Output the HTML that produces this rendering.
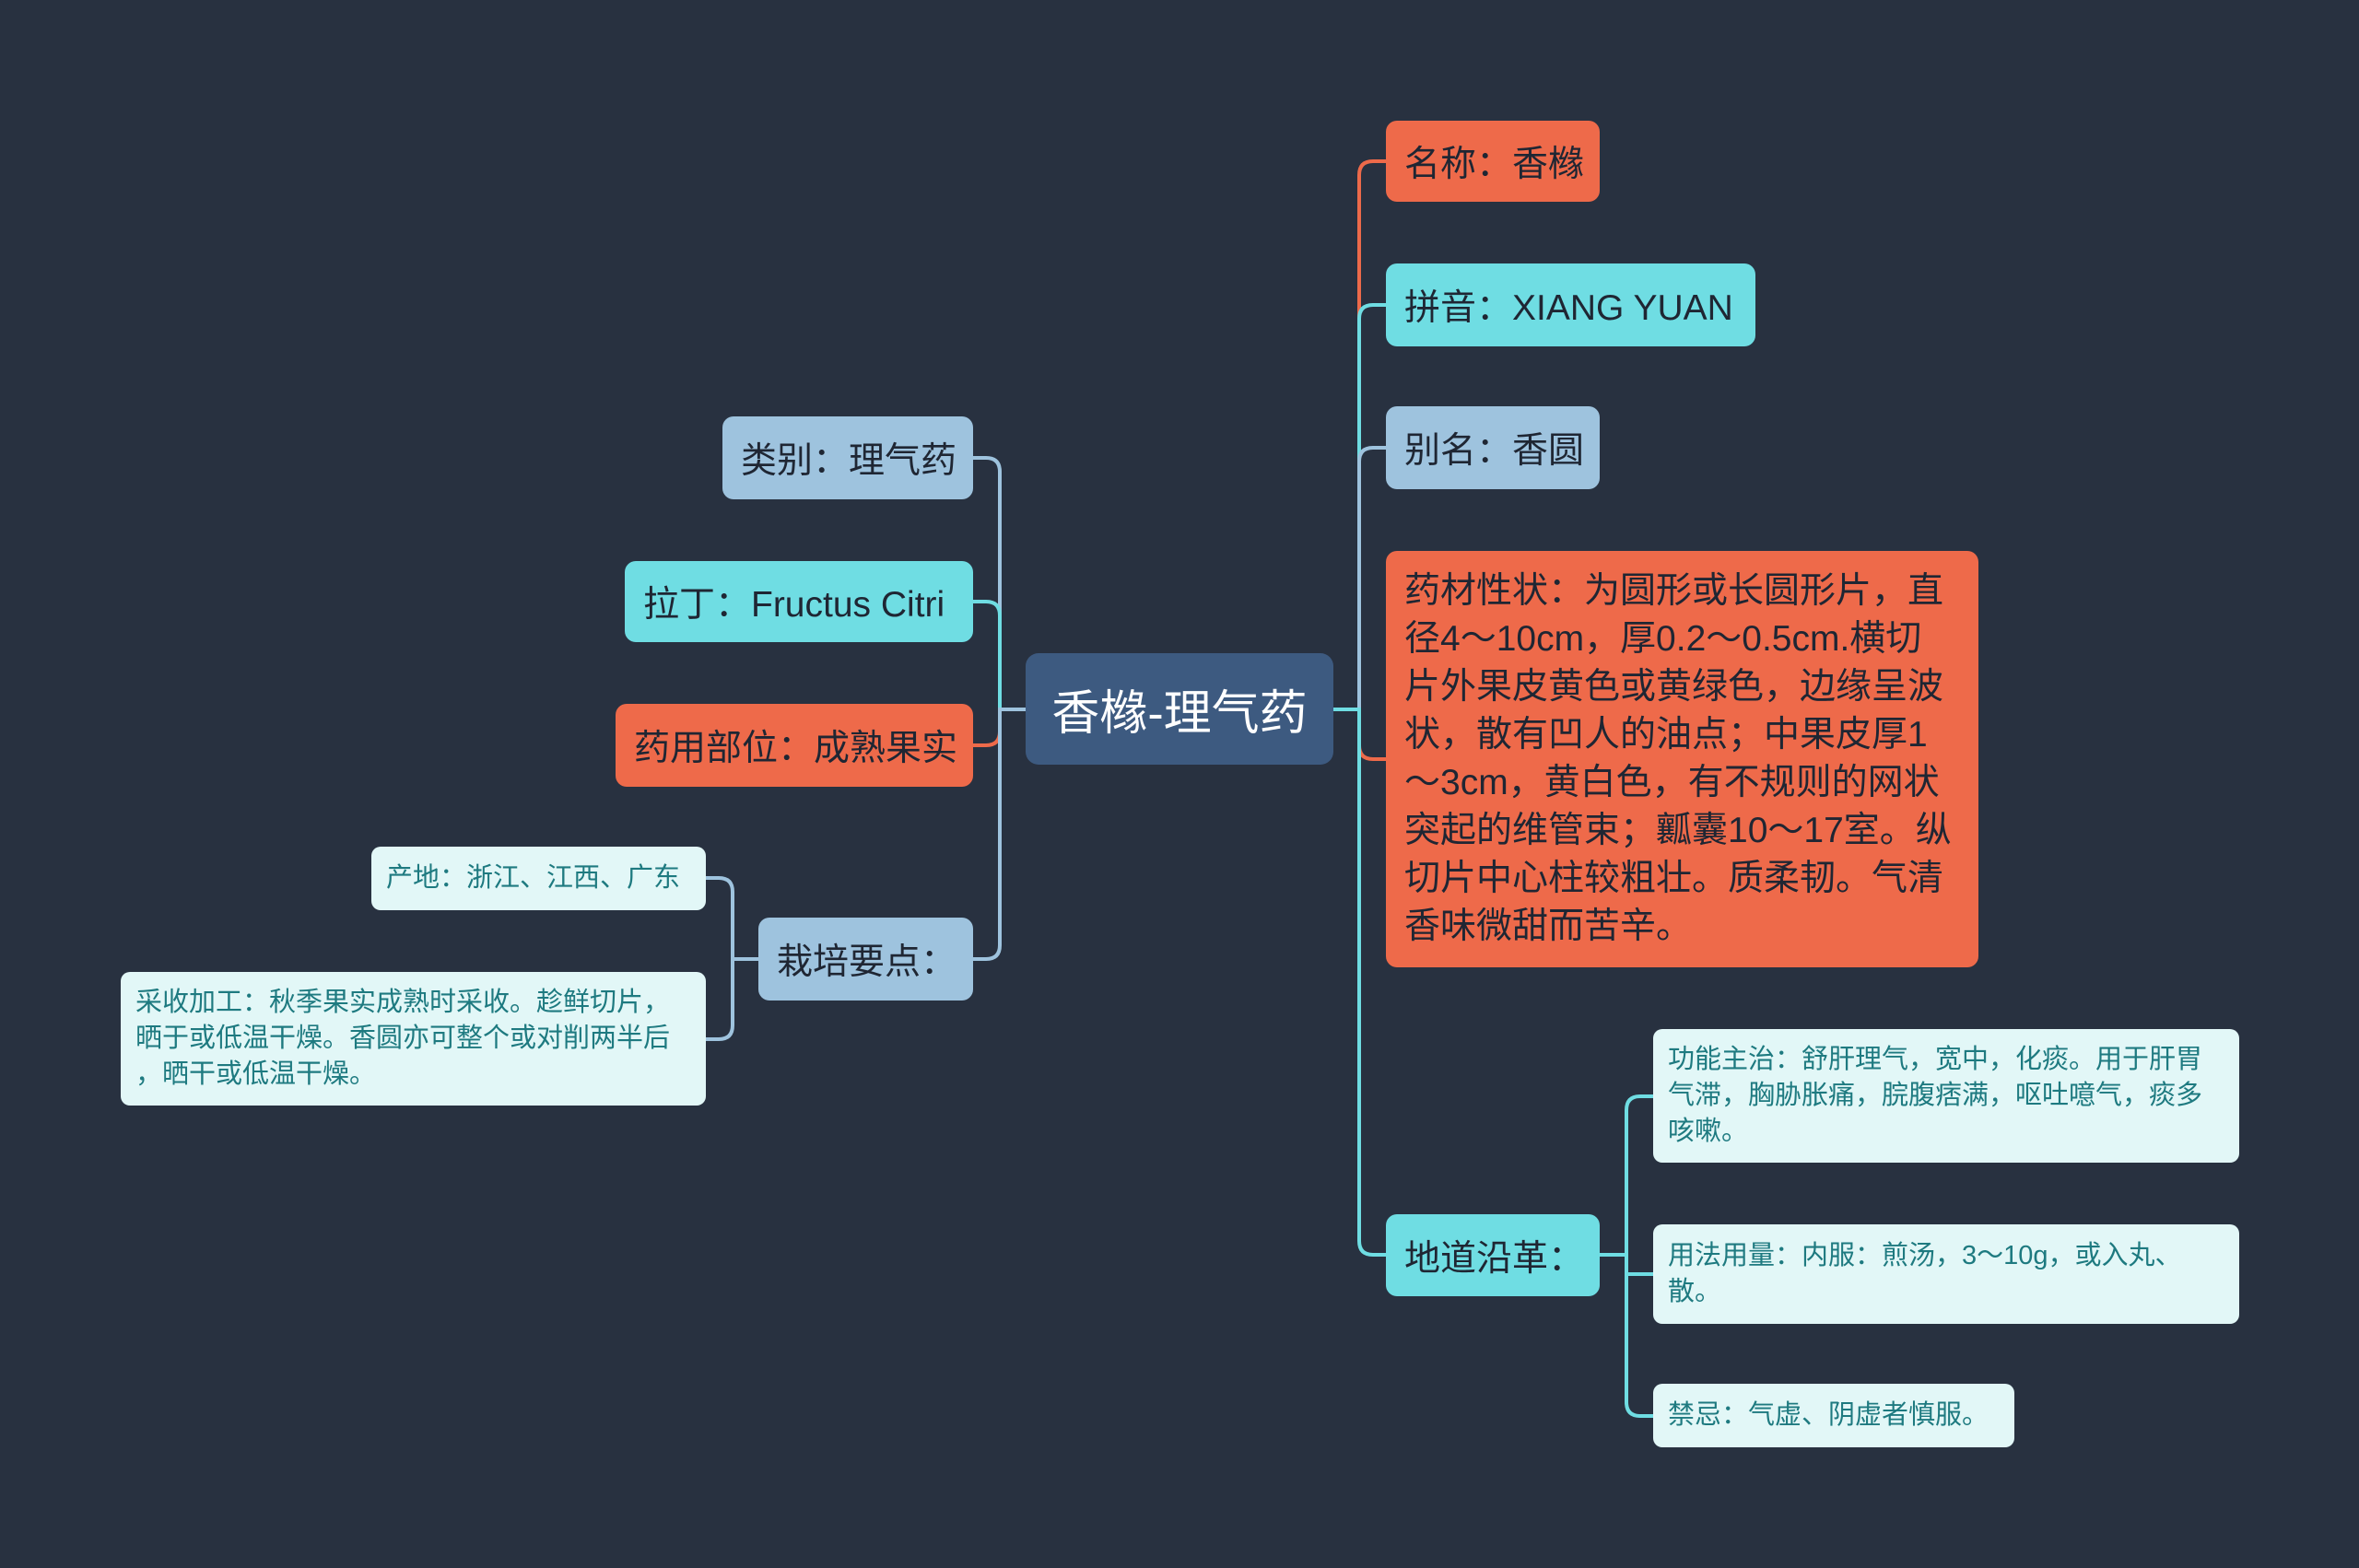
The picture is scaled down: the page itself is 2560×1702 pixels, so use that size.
<!DOCTYPE html>
<html><head><meta charset="utf-8"><style>
html,body{margin:0;padding:0}
body{width:2560px;height:1702px;background:#283140;position:relative;overflow:hidden;font-family:"Liberation Sans","Noto Sans CJK SC",sans-serif}
.n{position:absolute;box-sizing:border-box;border-radius:12px;display:flex;align-items:center;padding:0 20px;font-size:39px;white-space:nowrap;color:#2b2f3a}
.o{background:#ee6a4a;color:#1f2633}
.c{background:#6fdde3;color:#1f2633}
.b{background:#9ec3de;color:#1f2633}
.p{background:#e2f7f7;color:#1e7a80;font-size:29px;line-height:39px;white-space:normal;padding:0 16px;border-radius:10px}
svg{position:absolute;left:0;top:0}
</style></head><body>
<svg width="2560" height="1702" fill="none" stroke-width="4">
<g>
<path d="M1447 770 H1475 V190 Q1475 175 1490 175 H1504" stroke="#ee6a4a"/>
<path d="M1447 770 H1475 V346 Q1475 331 1490 331 H1504" stroke="#6fdde3"/>
<path d="M1447 770 H1475 V501 Q1475 486 1490 486 H1504" stroke="#9ec3de"/>
<path d="M1447 770 H1475 V809 Q1475 824 1490 824 H1504" stroke="#ee6a4a"/>
<path d="M1447 770 H1475 V1347 Q1475 1362 1490 1362 H1504" stroke="#6fdde3"/>
<path d="M1113 770 H1085 V512 Q1085 497 1070 497 H1056" stroke="#9ec3de"/>
<path d="M1113 770 H1085 V668 Q1085 653 1070 653 H1056" stroke="#6fdde3"/>
<path d="M1113 770 H1085 V794 Q1085 809 1070 809 H1056" stroke="#ee6a4a"/>
<path d="M1113 770 H1085 V1026 Q1085 1041 1070 1041 H1056" stroke="#9ec3de"/>
<path d="M823 1041 H795 V968 Q795 953 780 953 H766" stroke="#9ec3de"/>
<path d="M823 1041 H795 V1113 Q795 1128 780 1128 H766" stroke="#9ec3de"/>
<path d="M1736 1362 H1765 V1205 Q1765 1190 1780 1190 H1794" stroke="#6fdde3"/>
<path d="M1736 1362 H1765 V1383 Q1765 1383 1780 1383 H1794" stroke="#6fdde3"/>
<path d="M1736 1362 H1765 V1522 Q1765 1537 1780 1537 H1794" stroke="#6fdde3"/>
</g>
</svg>
<div class="n" style="left:1113px;top:709px;width:334px;height:121px;background:#3d5a80;color:#fff;font-size:52px;justify-content:center;border-radius:14px">香橼-理气药</div>

<div class="n o" style="left:1504px;top:131px;width:232px;height:88px">名称：香橼</div>
<div class="n c" style="left:1504px;top:286px;width:401px;height:90px">拼音：XIANG YUAN</div>
<div class="n b" style="left:1504px;top:441px;width:232px;height:90px">别名：香圆</div>
<div class="n o" style="left:1504px;top:598px;width:643px;height:452px;line-height:52px;align-items:center"><div>药材性状：为圆形或长圆形片，直<br>径4～10cm，厚0.2～0.5cm.横切<br>片外果皮黄色或黄绿色，边缘呈波<br>状，散有凹人的油点；中果皮厚1<br>～3cm，黄白色，有不规则的网状<br>突起的维管束；瓤囊10～17室。纵<br>切片中心柱较粗壮。质柔韧。气清<br>香味微甜而苦辛。</div></div>
<div class="n c" style="left:1504px;top:1318px;width:232px;height:89px">地道沿革：</div>
<div class="n p" style="left:1794px;top:1117px;width:636px;height:145px">功能主治：舒肝理气，宽中，化痰。用于肝胃气滞，胸胁胀痛，脘腹痞满，呕吐噫气，痰多咳嗽。</div>
<div class="n p" style="left:1794px;top:1329px;width:636px;height:108px">用法用量：内服：煎汤，3～10g，或入丸、散。</div>
<div class="n p" style="left:1794px;top:1502px;width:392px;height:69px">禁忌：气虚、阴虚者慎服。</div>

<div class="n b" style="left:784px;top:452px;width:272px;height:90px">类别：理气药</div>
<div class="n c" style="left:678px;top:609px;width:378px;height:88px">拉丁：Fructus Citri</div>
<div class="n o" style="left:668px;top:764px;width:388px;height:90px">药用部位：成熟果实</div>
<div class="n b" style="left:823px;top:996px;width:233px;height:90px">栽培要点：</div>
<div class="n p" style="left:403px;top:919px;width:363px;height:69px;white-space:nowrap">产地：浙江、江西、广东</div>
<div class="n p" style="left:131px;top:1055px;width:635px;height:145px;white-space:nowrap"><div>采收加工：秋季果实成熟时采收。趁鲜切片，<br>晒于或低温干燥。香圆亦可整个或对削两半后<br>，晒干或低温干燥。</div></div>
</body></html>
